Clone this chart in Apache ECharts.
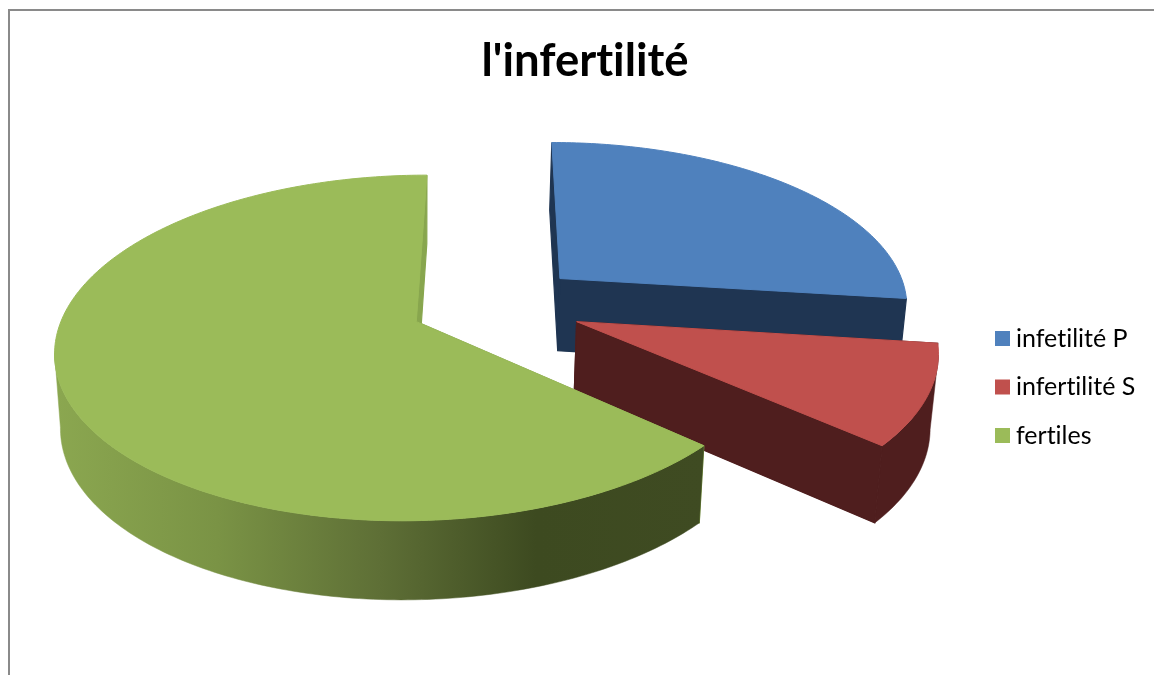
<!DOCTYPE html>
<html>
<head>
<meta charset="utf-8">
<style>html,body{margin:0;padding:0;background:#fff;overflow:hidden}#chart{width:1154px;height:675px}</style>
<script src="https://cdn.jsdelivr.net/npm/echarts@6/dist/echarts.min.js"></script>
</head>
<body>
<div id="chart"></div>
<script>
const chartTitle = "l'infertilité";
const categories = ['infetilité P', 'infertilité S', 'fertiles'];
const values = [27, 9.5, 63.5];
const topColors = ['#4F81BD', '#C0504D', '#9BBB59'];
const wallColors = ['#1F3552', '#4F1E1E', '#88A64E'];

// Plain text shaping: the reference has no "ti" ligature.
const origGetContext = HTMLCanvasElement.prototype.getContext;
HTMLCanvasElement.prototype.getContext = function () {
  const ctx = origGetContext.apply(this, arguments);
  if (ctx && 'textRendering' in ctx) ctx.textRendering = 'optimizeSpeed';
  return ctx;
};

const FONT = 'Lato, "Open Sans", sans-serif';
const view = { cx: 496.5, cy: 304.7, rx: 350, ry: 163.7, persp: 0.15, explode: 0.2475, depth: 73, depthPersp: 0.07, shrink: 0.984, shrinkX: 420 };
const total = values.reduce((a, b) => a + b, 0);

function project(X, Y) {
  const s = 1 / (1 + view.persp * Y);
  return [view.cx + X * view.rx * s, view.cy - view.ry * Y * s];
}
function lower(p, Y) {
  return [view.shrinkX + (p[0] - view.shrinkX) * view.shrink, p[1] + view.depth / (1 + view.depthPersp * Y)];
}

function sliceRenderer(index) {
  return function (params, api) {
    const value = api.value(0);
    let before = 0;
    for (let i = 0; i < index; i++) before += values[i];
    const a0 = before / total * 2 * Math.PI;
    const a1 = (before + value) / total * 2 * Math.PI;
    const mid = (a0 + a1) / 2;
    const ox = Math.sin(mid) * view.explode, oy = Math.cos(mid) * view.explode;

    const top = [], bottom = [];
    const steps = Math.max(8, Math.round((a1 - a0) * 60));
    for (let i = 0; i <= steps; i++) {
      const a = a0 + (a1 - a0) * i / steps;
      const X = ox + Math.sin(a), Y = oy + Math.cos(a);
      const p = project(X, Y);
      top.push(p);
      bottom.push(lower(p, Y));
    }
    const apex = project(ox, oy);
    const apexLow = lower(apex, oy);

    // Only the part of the outer wall that faces the viewer (rim runs leftwards).
    const rimTop = [], rimBottom = [];
    for (let i = 0; i <= steps; i++) {
      const leftwards = (i < steps && top[i + 1][0] < top[i][0]) || (i > 0 && top[i][0] < top[i - 1][0]);
      if (leftwards) { rimTop.push(top[i]); rimBottom.push(bottom[i]); }
    }

    let rimFill = wallColors[index];
    if (index === 2) {
      rimFill = new echarts.graphic.LinearGradient(55, 0, 705, 0, [
        { offset: 0, color: '#8BA750' },
        { offset: 0.25, color: '#7A9345' },
        { offset: 0.5, color: '#5E6F36' },
        { offset: 0.74, color: '#3D4A20' },
        { offset: 1, color: '#3F4B22' }
      ], true);
    }
    const wall = wallColors[index];
    const poly = (points, fill, lw) => ({ type: 'polygon', shape: { points }, style: { fill, stroke: fill, lineWidth: lw } });
    return {
      type: 'group',
      children: [
        poly([apex, top[0], bottom[0], apexLow], wall, 1.2),
        poly(rimTop.concat(rimBottom.slice().reverse()), rimFill, 0.5),
        poly([apex, top[steps], bottom[steps], apexLow], wall, 1.2),
        poly([apex].concat(top), topColors[index], 1)
      ]
    };
  };
}

const chart = echarts.init(document.getElementById('chart'), null, { renderer: 'canvas' });
chart.setOption({
  animation: false,
  backgroundColor: '#fff',
  title: {
    text: chartTitle, left: 580, top: 33, textAlign: 'center',
    textStyle: { fontFamily: FONT, fontSize: 45.5, fontWeight: 'bold', color: '#000' }
  },
  legend: {
    data: categories, orient: 'vertical', left: 995, top: 326, padding: 0,
    icon: 'rect', itemWidth: 15, itemHeight: 15, itemGap: 23.5, selectedMode: false,
    textStyle: { fontFamily: FONT, fontSize: 25, color: '#000', lineHeight: 25, padding: [0, 0, 0, 1] }
  },
  graphic: [{
    type: 'polyline', silent: true,
    shape: { points: [[9, 675], [9, 10], [1154, 10]] },
    style: { stroke: '#8A8A8A', lineWidth: 2, fill: null }
  }],
  series: categories.map((name, i) => ({
    type: 'custom', name, coordinateSystem: 'none', silent: true,
    itemStyle: { color: topColors[i] },
    renderItem: sliceRenderer(i),
    data: [[values[i]]]
  }))
});
</script>
</body>
</html>
